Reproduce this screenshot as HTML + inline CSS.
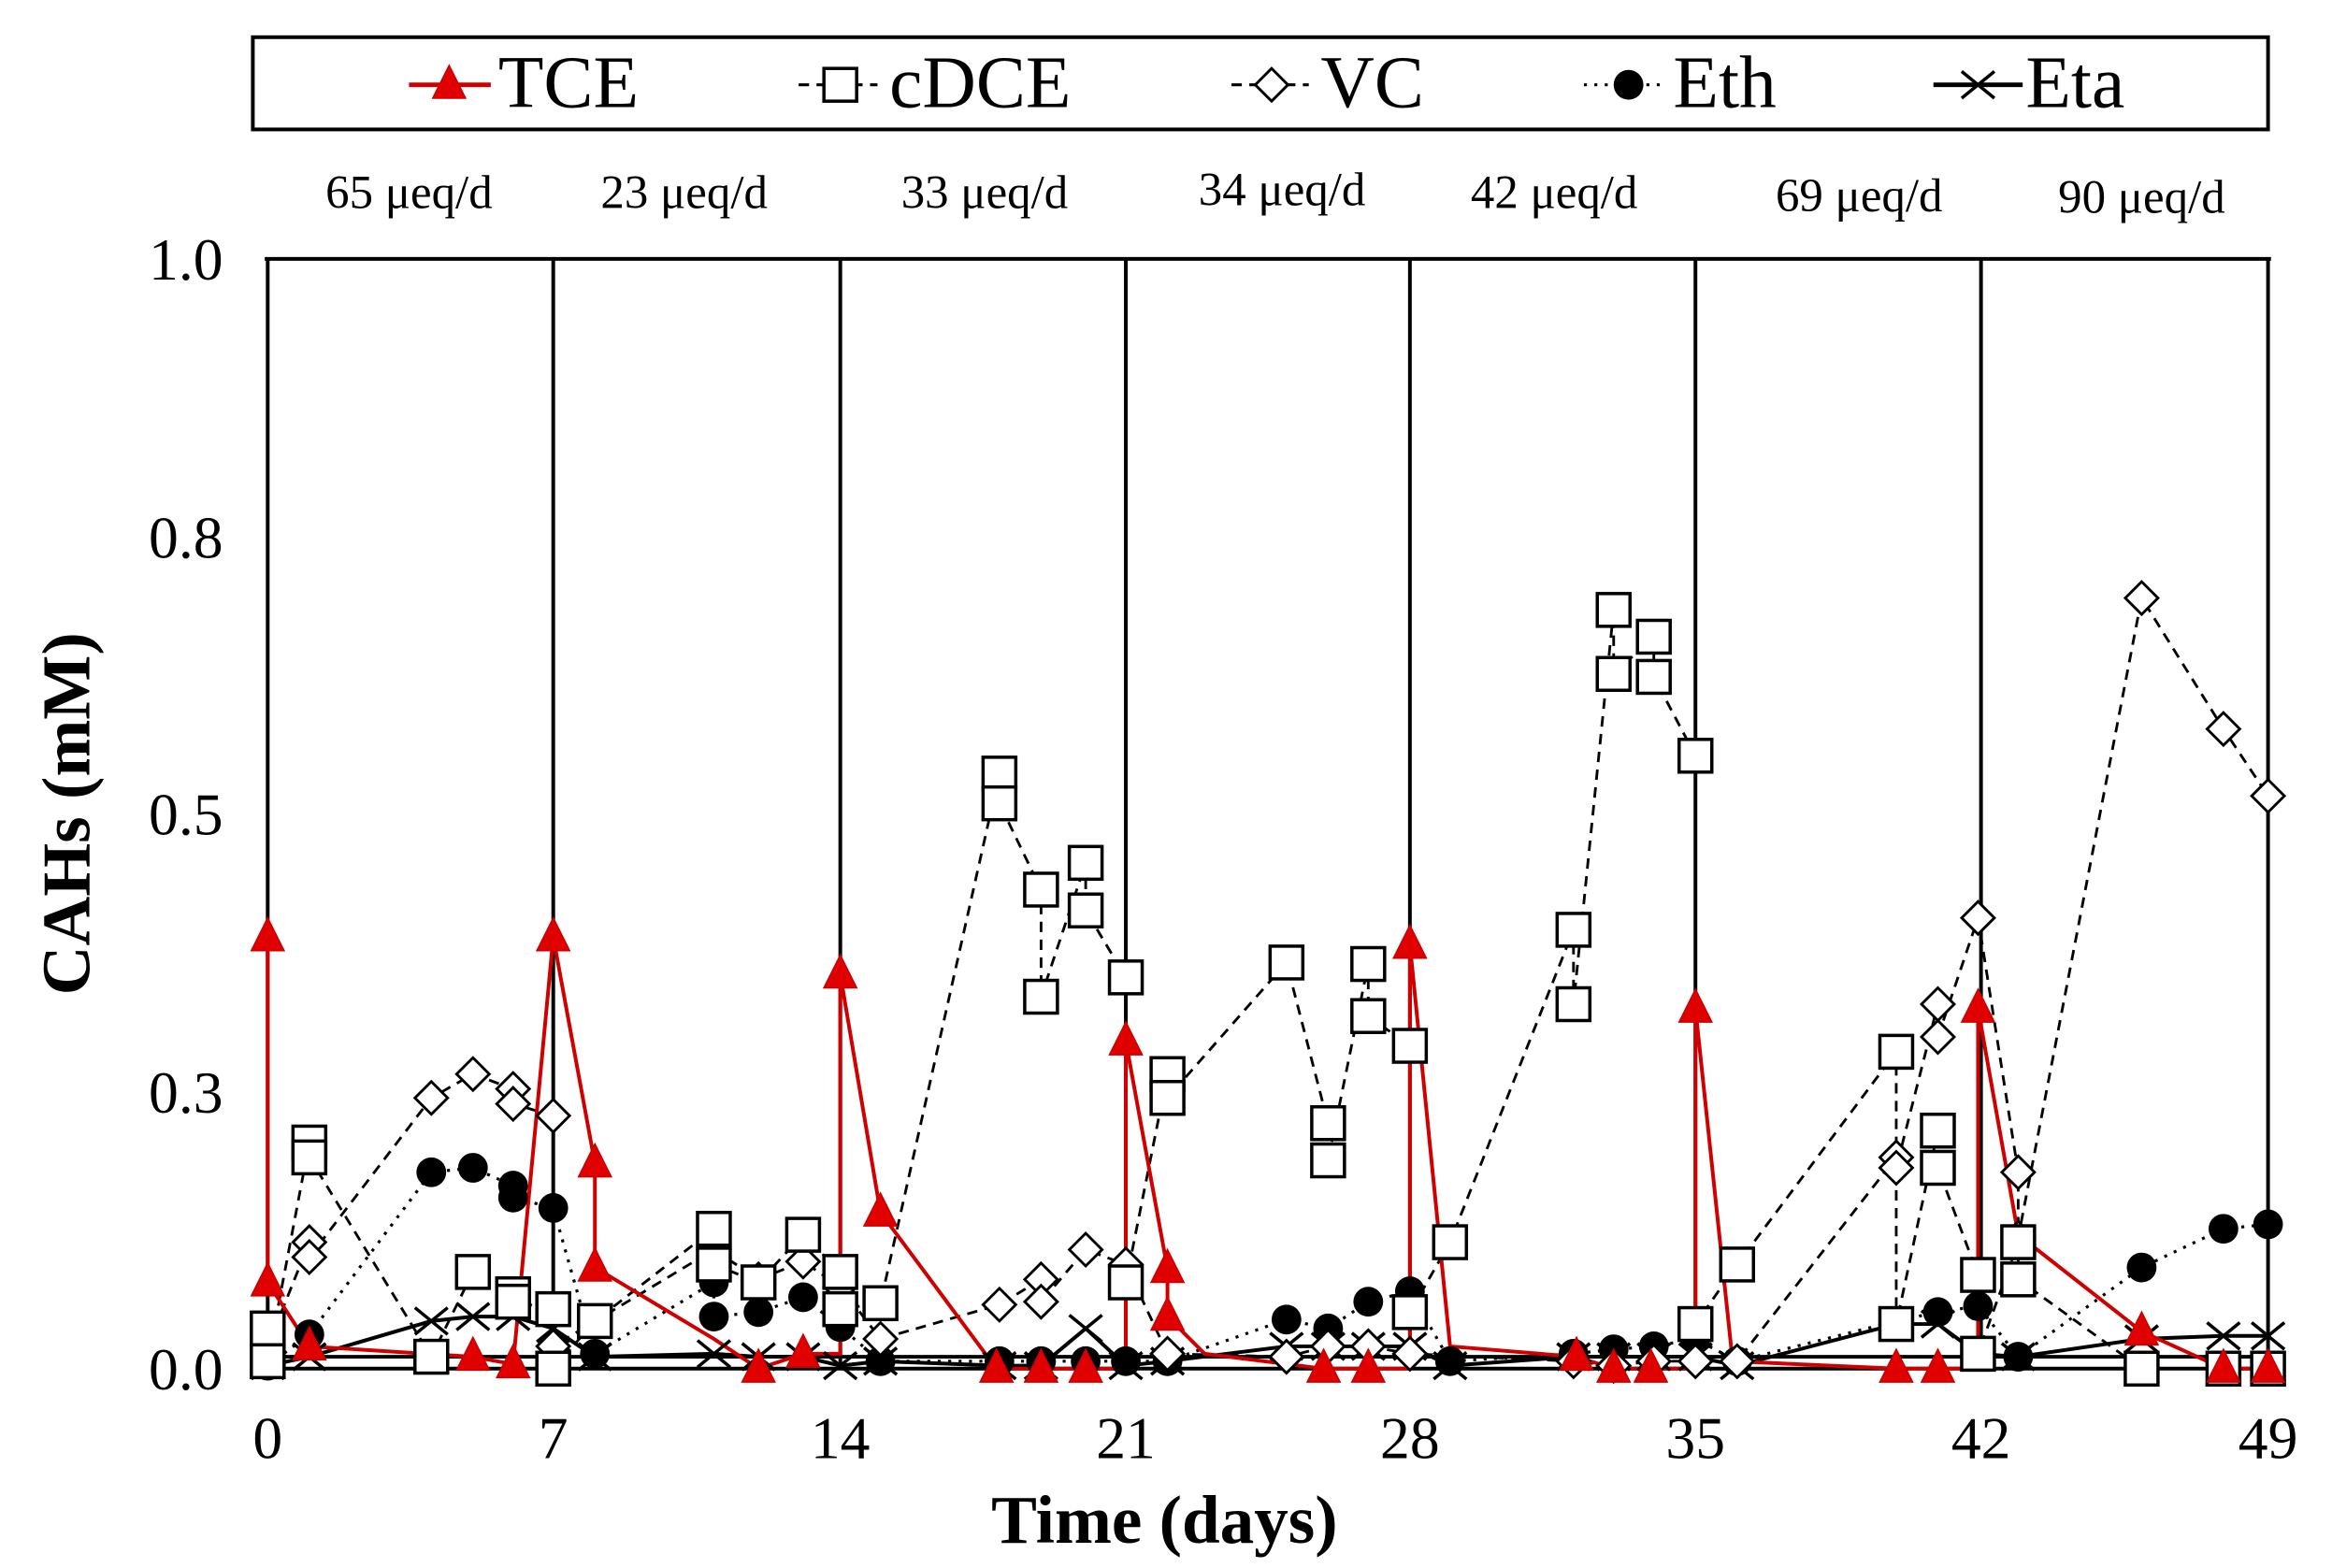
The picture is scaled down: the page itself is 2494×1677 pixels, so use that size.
<!DOCTYPE html>
<html><head><meta charset="utf-8"><style>
html,body{margin:0;padding:0;background:#fff;}
svg{display:block;}
text{font-family:"Liberation Serif",serif;fill:#000;}
</style></head><body>
<svg id="s" width="2494" height="1677" viewBox="0 0 1568 1054" preserveAspectRatio="none" xmlns="http://www.w3.org/2000/svg">
<rect x="0" y="0" width="1568" height="1054" fill="#fff"/>
<!-- legend -->
<rect x="170" y="25" width="1355" height="62" fill="#fff" stroke="#000" stroke-width="2.5"/>
<g id="leg"></g>
<text x="335" y="72" font-size="50">TCE</text>
<text x="598" y="72" font-size="50">cDCE</text>
<text x="888" y="72" font-size="50">VC</text>
<text x="1125" y="72" font-size="50">Eth</text>
<text x="1362" y="72" font-size="50">Eta</text>
<!-- annotations -->
<g font-size="32" text-anchor="middle">
<text x="275" y="140">65 μeq/d</text>
<text x="460" y="140">23 μeq/d</text>
<text x="662" y="140">33 μeq/d</text>
<text x="862" y="138">34 μeq/d</text>
<text x="1045" y="140">42 μeq/d</text>
<text x="1250" y="142">69 μeq/d</text>
<text x="1440" y="143">90 μeq/d</text>
</g>
<!-- axes -->
<g stroke="#000" stroke-width="2.5">
<line x1="178" y1="174" x2="1527" y2="174"/>
<line x1="178" y1="920" x2="1527" y2="920"/>
<line x1="180" y1="174" x2="180" y2="920"/>
<line x1="372" y1="174" x2="372" y2="920"/>
<line x1="565" y1="174" x2="565" y2="920"/>
<line x1="757" y1="174" x2="757" y2="920"/>
<line x1="948" y1="174" x2="948" y2="920"/>
<line x1="1140" y1="174" x2="1140" y2="920"/>
<line x1="1332" y1="174" x2="1332" y2="920"/>
<line x1="1525" y1="174" x2="1525" y2="920"/>
</g>
<g font-size="40" text-anchor="end">
<text x="150" y="188">1.0</text>
<text x="150" y="375">0.8</text>
<text x="150" y="561">0.5</text>
<text x="150" y="748">0.3</text>
<text x="150" y="934">0.0</text>
</g>
<g font-size="40" text-anchor="middle">
<text x="180" y="980">0</text><text x="372" y="980">7</text><text x="565" y="980">14</text>
<text x="757" y="980">21</text><text x="948" y="980">28</text><text x="1140" y="980">35</text>
<text x="1332" y="980">42</text><text x="1525" y="980">49</text>
</g>
<text x="783" y="1037" font-size="46" font-weight="bold" text-anchor="middle">Time (days)</text>
<text transform="translate(60,547) rotate(-90)" font-size="46" font-weight="bold" text-anchor="middle">CAHs  (mM)</text>
<g id="data"></g>
</svg>
<script>
var NS="http://www.w3.org/2000/svg";
function el(p,t,a){var e=document.createElementNS(NS,t);for(var k in a)e.setAttribute(k,a[k]);p.appendChild(e);return e;}
var g=document.getElementById("data"),lg=document.getElementById("leg");
function pts(a){var s=[];for(var i=0;i<a.length;i+=2)s.push(a[i]+","+a[i+1]);return s;}
function line(p,a,st){el(p,"polyline",Object.assign({points:pts(a).join(" "),fill:"none"},st));}
function tri(p,x,y,c){el(p,"polygon",{points:(x)+","+(y-13)+" "+(x-11)+","+(y+9)+" "+(x+11)+","+(y+9),fill:c||"#e00000",stroke:"#c00",'stroke-width':1});}
function sq(p,x,y){el(p,"rect",{x:x-11,y:y-11,width:22,height:22,fill:"#fff",stroke:"#000","stroke-width":2.2});}
function dia(p,x,y){el(p,"polygon",{points:x+","+(y-11)+" "+(x+11)+","+y+" "+x+","+(y+11)+" "+(x-11)+","+y,fill:"#fff",stroke:"#000","stroke-width":1.8});}
function cir(p,x,y){el(p,"circle",{cx:x,cy:y,r:10,fill:"#000"});}
function xx(p,x,y){el(p,"path",{d:"M"+(x-11)+","+(y-9)+"L"+(x+11)+","+(y+9)+"M"+(x-11)+","+(y+9)+"L"+(x+11)+","+(y-9),stroke:"#000","stroke-width":2.2,fill:"none"});}
var eta=[180,918,208,912,290,888,318,885,345,885,372,893,400,912,480,910,510,912,540,912,565,918,592,915,672,918,700,918,730,893,757,918,785,915,865,905,893,905,920,905,948,905,975,918,1058,912,1085,912,1112,912,1140,912,1168,918,1275,890,1303,890,1330,910,1357,912,1440,900,1495,898,1525,898];
var eth=[180,918,208,897,290,788,318,785,345,797,345,805,372,812,400,910,480,862,480,885,510,882,540,872,565,892,592,915,672,915,700,915,730,915,757,915,785,915,865,887,893,893,920,875,948,868,975,915,1058,910,1085,907,1112,905,1140,900,1168,915,1275,888,1303,882,1330,878,1357,912,1440,852,1495,826,1525,823];
var vc=[180,905,208,835,208,845,290,738,318,722,345,732,345,742,372,750,372,905,480,840,510,860,540,848,565,865,592,900,672,877,700,860,700,875,730,840,757,850,785,910,865,912,893,905,920,905,948,910,1058,915,1085,918,1112,915,1140,915,1168,915,1275,778,1275,785,1303,675,1303,697,1330,617,1357,788,1357,832,1440,402,1495,490,1525,535];
var cd=[180,893,180,915,208,768,208,778,290,912,318,855,345,870,345,875,372,880,372,920,400,888,480,826,480,850,510,862,540,830,565,855,565,880,592,876,672,520,672,540,700,598,700,670,730,580,730,612,757,657,757,862,785,722,785,738,865,647,893,755,893,780,920,648,920,683,948,703,948,882,975,835,1058,625,1058,675,1085,410,1085,453,1112,428,1112,455,1140,508,1140,890,1168,850,1275,707,1275,890,1303,760,1303,785,1330,857,1330,910,1357,835,1357,860,1440,920,1495,920,1525,920];
var tce=[180,630,180,862,208,905,318,912,345,917,372,630,400,782,400,852,480,900,510,920,540,910,565,910,565,655,592,815,670,920,700,920,730,920,757,920,757,700,785,853,785,885,810,910,890,920,920,920,948,920,948,635,975,905,1060,912,1085,920,1110,920,1140,920,1140,678,1165,915,1275,920,1303,920,1330,920,1330,678,1357,830,1440,895,1495,920,1525,920];
line(g,[180,912,1525,912],{stroke:"#000","stroke-width":2.5});
line(g,eta,{stroke:"#000","stroke-width":2.5});
line(g,eth,{stroke:"#000","stroke-width":2,"stroke-dasharray":"2,5"});
line(g,vc,{stroke:"#000","stroke-width":1.8,"stroke-dasharray":"7,5"});
line(g,cd,{stroke:"#000","stroke-width":1.8,"stroke-dasharray":"7,5"});
line(g,tce,{stroke:"#d00000","stroke-width":2.5});
for(var i=0;i<eta.length;i+=2)xx(g,eta[i],eta[i+1]);
for(i=0;i<eth.length;i+=2)cir(g,eth[i],eth[i+1]);
for(i=0;i<vc.length;i+=2)dia(g,vc[i],vc[i+1]);
for(i=0;i<cd.length;i+=2)sq(g,cd[i],cd[i+1]);
var tm=[180,630,180,862,208,905,318,912,345,917,372,630,400,782,400,852,510,920,540,910,565,655,592,815,670,920,700,920,730,920,757,700,785,853,785,885,890,920,920,920,948,635,1060,912,1085,920,1110,920,1140,678,1275,920,1303,920,1330,678,1440,895,1495,920,1525,920];
for(i=0;i<tm.length;i+=2)tri(g,tm[i],tm[i+1]);
// legend
line(lg,[275,57,330,57],{stroke:"#d00000","stroke-width":3});tri(lg,302,57);
line(lg,[537,57,590,57],{stroke:"#000","stroke-width":2,"stroke-dasharray":"7,5"});sq(lg,565,57);
line(lg,[828,57,880,57],{stroke:"#000","stroke-width":2,"stroke-dasharray":"7,5"});dia(lg,855,57);
line(lg,[1065,57,1118,57],{stroke:"#000","stroke-width":2,"stroke-dasharray":"2,5"});cir(lg,1095,57);
line(lg,[1300,57,1360,57],{stroke:"#000","stroke-width":3});xx(lg,1330,57);
</script>
</body></html>
